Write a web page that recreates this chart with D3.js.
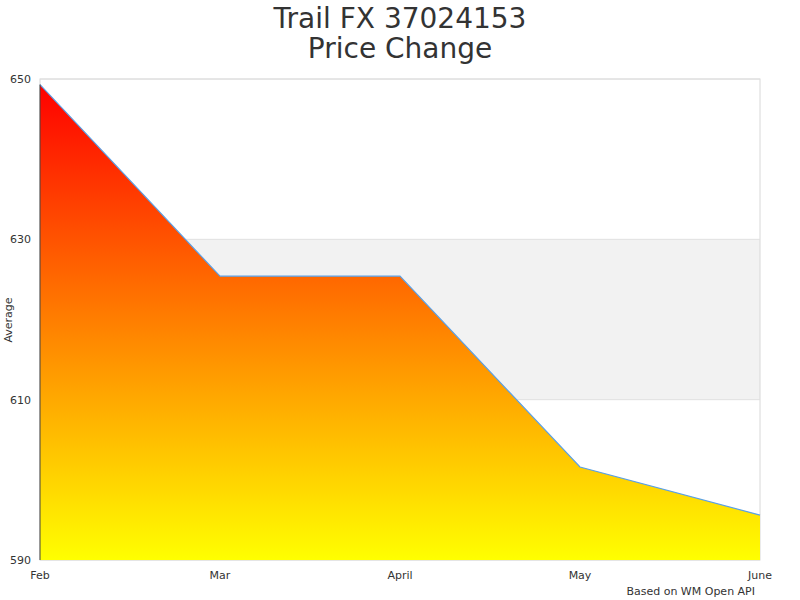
<!DOCTYPE html><html><head><script src="https://cdn.jsdelivr.net/npm/d3@7"></script>
<style>body{margin:0;background:#fff}text{font-family:"DejaVu Sans",sans-serif}</style></head><body>
<svg id="c" width="800" height="600"></svg>
<script>
const categories=["Feb","Mar","April","May","June"];
const values=[649.3,625.4,625.4,601.6,595.6];
const yTicks=[590,610,630,650];
const svg=d3.select("#c");
const L=40,R=760,T=79,B=560;
const x=d3.scalePoint().domain(categories).range([L,R]);
const y=d3.scaleLinear().domain([590,650]).range([B,T]);
svg.append("rect").attr("x",L).attr("y",y(630)).attr("width",R-L).attr("height",y(610)-y(630)).attr("fill","#f2f2f2");
svg.append("rect").attr("x",L).attr("y",T).attr("width",R-L).attr("height",B-T).attr("fill","none").attr("stroke","#d8d8d8");
yTicks.forEach(t=>{svg.append("line").attr("x1",L).attr("x2",R).attr("y1",y(t)).attr("y2",y(t)).attr("stroke","#e0e0e0");
svg.append("text").attr("x",10).attr("y",y(t)+4).attr("font-size",11).attr("fill","#333").text(t);});
const g=svg.append("defs").append("linearGradient").attr("id","gr").attr("x1",0).attr("x2",0).attr("y1",0).attr("y2",1);
g.append("stop").attr("offset","0%").attr("stop-color","#ff0000");
g.append("stop").attr("offset","100%").attr("stop-color","#ffff00");
const data=categories.map((c,i)=>({c,v:values[i]}));
svg.append("path").datum(data).attr("fill","url(#gr)").attr("d",d3.area().x(d=>x(d.c)).y0(B).y1(d=>y(d.v)));
svg.append("path").datum(data).attr("fill","none").attr("stroke","#5aa0e6").attr("stroke-width",1.2).attr("d",d3.line().x(d=>x(d.c)).y(d=>y(d.v)));
svg.append("line").attr("x1",L).attr("x2",L).attr("y1",y(values[0])).attr("y2",B).attr("stroke","#444");
categories.forEach(c=>svg.append("text").attr("x",x(c)).attr("y",579).attr("text-anchor","middle").attr("font-size",11).attr("fill","#333").text(c));
svg.append("text").attr("transform","translate(12,320) rotate(-90)").attr("text-anchor","middle").attr("font-size",11).attr("fill","#333").text("Average");
svg.append("text").attr("x",400).attr("y",28).attr("text-anchor","middle").attr("font-size",28).attr("fill","#333").text("Trail FX 37024153");
svg.append("text").attr("x",400).attr("y",58).attr("text-anchor","middle").attr("font-size",28).attr("fill","#333").text("Price Change");
svg.append("text").attr("x",755).attr("y",595).attr("text-anchor","end").attr("font-size",11).attr("fill","#333").text("Based on WM Open API");
</script></body></html>
